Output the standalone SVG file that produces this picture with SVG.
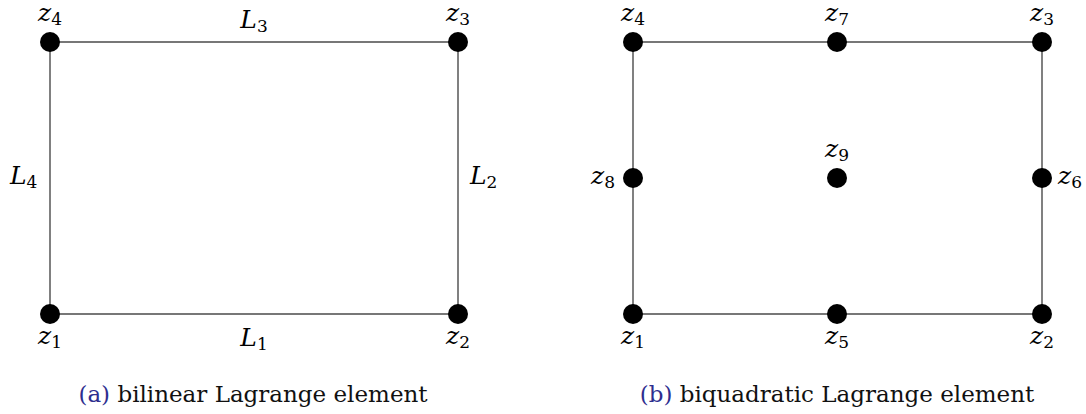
<svg xmlns="http://www.w3.org/2000/svg" width="1086" height="414" viewBox="0 0 1086 414">
<style>
.edge{stroke:#4a4a4a;stroke-width:1.4;fill:none}
.dot{fill:#000}
.m{font-family:"DejaVu Serif","Liberation Serif",serif;font-style:italic;font-size:25px;fill:#000}
.s{font-style:normal;font-size:17px}
.cap{font-family:"DejaVu Serif","Liberation Serif",serif;font-size:23px;fill:#111}
.lbl{fill:#2e2e8f}
</style>
<rect width="1086" height="414" fill="#fff"/>
<g id="connectors">
<line class="edge" x1="50" y1="42" x2="458" y2="42"/>
<line class="edge" x1="50" y1="314" x2="458" y2="314"/>
<line class="edge" x1="50" y1="42" x2="50" y2="314"/>
<line class="edge" x1="458" y1="42" x2="458" y2="314"/>
<line class="edge" x1="633" y1="42" x2="1042" y2="42"/>
<line class="edge" x1="633" y1="314" x2="1042" y2="314"/>
<line class="edge" x1="633" y1="42" x2="633" y2="314"/>
<line class="edge" x1="1042" y1="42" x2="1042" y2="314"/>
</g>
<g id="a_z1"><circle class="dot" cx="50" cy="314" r="10"/><text class="m" x="50" y="344" text-anchor="middle">z<tspan class="s" dy="4">1</tspan></text></g>
<g id="a_z2"><circle class="dot" cx="458" cy="314" r="10"/><text class="m" x="458" y="344" text-anchor="middle">z<tspan class="s" dy="4">2</tspan></text></g>
<g id="a_z3"><circle class="dot" cx="458" cy="42" r="10"/><text class="m" x="458" y="21" text-anchor="middle">z<tspan class="s" dy="4">3</tspan></text></g>
<g id="a_z4"><circle class="dot" cx="50" cy="42" r="10"/><text class="m" x="50" y="21" text-anchor="middle">z<tspan class="s" dy="4">4</tspan></text></g>
<g id="a_L1"><text class="m" x="254" y="346" text-anchor="middle">L<tspan class="s" dy="4">1</tspan></text></g>
<g id="a_L2"><text class="m" x="470" y="184">L<tspan class="s" dy="4">2</tspan></text></g>
<g id="a_L3"><text class="m" x="254" y="28" text-anchor="middle">L<tspan class="s" dy="4">3</tspan></text></g>
<g id="a_L4"><text class="m" x="10" y="184">L<tspan class="s" dy="4">4</tspan></text></g>
<g id="b_z1"><circle class="dot" cx="633" cy="314" r="10"/><text class="m" x="633" y="344" text-anchor="middle">z<tspan class="s" dy="4">1</tspan></text></g>
<g id="b_z2"><circle class="dot" cx="1042" cy="314" r="10"/><text class="m" x="1042" y="344" text-anchor="middle">z<tspan class="s" dy="4">2</tspan></text></g>
<g id="b_z3"><circle class="dot" cx="1042" cy="42" r="10"/><text class="m" x="1042" y="21" text-anchor="middle">z<tspan class="s" dy="4">3</tspan></text></g>
<g id="b_z4"><circle class="dot" cx="633" cy="42" r="10"/><text class="m" x="633" y="21" text-anchor="middle">z<tspan class="s" dy="4">4</tspan></text></g>
<g id="b_z5"><circle class="dot" cx="837" cy="314" r="10"/><text class="m" x="837" y="344" text-anchor="middle">z<tspan class="s" dy="4">5</tspan></text></g>
<g id="b_z6"><circle class="dot" cx="1042" cy="178" r="10"/><text class="m" x="1058" y="184">z<tspan class="s" dy="4">6</tspan></text></g>
<g id="b_z7"><circle class="dot" cx="837" cy="42" r="10"/><text class="m" x="837" y="21" text-anchor="middle">z<tspan class="s" dy="4">7</tspan></text></g>
<g id="b_z8"><circle class="dot" cx="633" cy="178" r="10"/><text class="m" x="615" y="184" text-anchor="end">z<tspan class="s" dy="4">8</tspan></text></g>
<g id="b_z9"><circle class="dot" cx="837" cy="178" r="10"/><text class="m" x="837" y="157" text-anchor="middle">z<tspan class="s" dy="4">9</tspan></text></g>
<g id="captions">
<text class="cap" x="253" y="402" text-anchor="middle"><tspan class="lbl">(a)</tspan> bilinear Lagrange element</text>
<text class="cap" x="837" y="402" text-anchor="middle"><tspan class="lbl">(b)</tspan> biquadratic Lagrange element</text>
</g>
</svg>
